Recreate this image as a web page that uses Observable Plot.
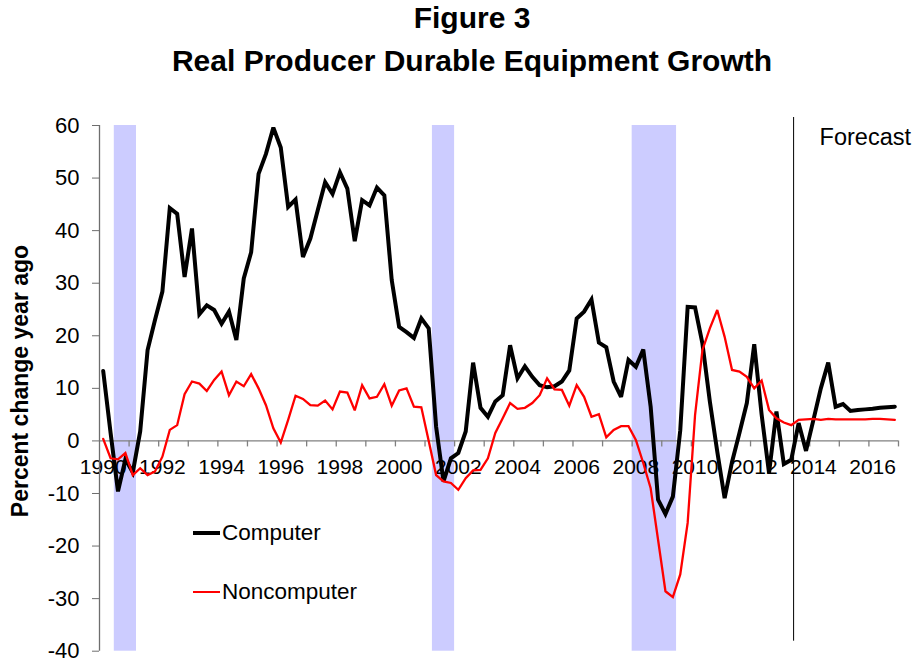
<!DOCTYPE html>
<html>
<head>
<meta charset="utf-8">
<script src="https://cdn.jsdelivr.net/npm/d3@7"></script>
<script src="https://cdn.jsdelivr.net/npm/@observablehq/plot@0.6"></script>
<style>
  body { margin: 0; background: #fff; font-family: "Liberation Sans", Arial, sans-serif; }
  #wrap { position: relative; width: 915px; height: 663px; overflow: hidden; background: #fff; }
  .t { position: absolute; left: 472px; transform: translateX(-50%); white-space: nowrap;
       font-weight: bold; font-size: 30px; line-height: 30px; color: #000; }
  #chart { position: absolute; left: 0; top: 90px; }
  #ylab { position: absolute; left: 20px; top: 381px; transform: translate(-50%, -50%) rotate(-90deg);
          white-space: nowrap; font-weight: bold; font-size: 23px; line-height: 23px; color: #000; }
  .legline { position: absolute; left: 193px; width: 27px; }
  .legtext { position: absolute; left: 222px; font-size: 22.5px; line-height: 22.5px; white-space: nowrap; color: #000; }
</style>
</head>
<body>
<div id="wrap">
  <div class="t" id="title1" style="top:3px"></div>
  <div class="t" id="title2" style="top:46px"></div>
  <div id="chart"></div>
  <div id="ylab"></div>
  <div class="legline" id="leg0" style="top:530.7px;height:4px;"></div>
  <div class="legtext" id="legt0" style="top:521.7px"></div>
  <div class="legline" id="leg1" style="top:591.2px;height:2.3px;"></div>
  <div class="legtext" id="legt1" style="top:581.3px"></div>
</div>
<script>
// ---------------- data ----------------
const titleText = "Figure 3";
const subtitleText = "Real Producer Durable Equipment Growth";
const yLabel = "Percent change year ago";
const seriesNames = ["Computer", "Noncomputer"];
const seriesColors = ["#000000", "#ff0000"];
const firstQuarter = "1990Q1";

// Percent change year ago, quarterly 1990Q1 .. 2016Q4
const computer = [
  13.3, 1.5, -9.6, -3.5, -6.0, 1.8, 17.3, 23.0,
  28.4, 44.3, 43.2, 31.2, 40.4, 24.1, 25.8, 24.9,
  22.3, 24.6, 19.2, 30.9, 35.9, 50.8, 54.6, 59.6,
  55.8, 44.5, 45.9, 35.0, 38.5, 43.9, 49.2, 47.0,
  51.1, 48.0, 38.0, 45.8, 44.8, 48.2, 46.7, 30.6,
  21.7, 20.7, 19.6, 23.3, 21.4, 2.7, -7.7, -3.3,
  -2.3, 1.8, 14.9, 6.3, 4.6, 7.5, 8.7, 18.2,
  11.9, 14.2, 12.2, 10.6, 10.2, 10.4, 11.3, 13.4,
  23.3, 24.6, 26.9, 18.7, 17.8, 11.3, 8.4, 15.4,
  14.1, 17.4, 6.5, -11.2, -13.9, -10.6, 2.0, 25.5,
  25.4, 18.5, 7.5, -2.0, -10.9, -4.0, 1.5, 7.2,
  18.4, 5.0, -6.1, 5.6, -4.4, -3.6, 3.4, -1.9,
  4.0, 10.0, 14.9, 6.5, 7.0, 5.7, 5.9, 6.0,
  6.1, 6.3, 6.4, 6.5
];
const noncomputer = [
  0.4, -3.3, -3.5, -2.3, -6.5, -5.2, -6.5, -5.8,
  -3.0, 2.1, 3.0, 8.9, 11.3, 10.9, 9.5, 11.6,
  13.2, 8.7, 11.3, 10.4, 12.7, 10.0, 6.8, 2.4,
  -0.3, 4.0, 8.6, 8.0, 6.8, 6.7, 7.7, 6.0,
  9.4, 9.2, 5.8, 10.6, 8.1, 8.4, 10.8, 6.7,
  9.6, 10.0, 6.5, 6.4, 0.0, -6.5, -7.7, -8.0,
  -9.3, -7.1, -5.6, -5.5, -3.3, 1.5, 4.3, 7.2,
  6.1, 6.3, 7.2, 8.7, 11.9, 9.8, 9.7, 6.7,
  10.6, 8.4, 4.6, 5.1, 0.7, 2.1, 2.8, 2.8,
  0.2, -4.2, -9.0, -18.8, -28.6, -29.7, -25.4, -15.6,
  4.9, 17.3, 21.4, 24.9, 19.8, 13.5, 13.2, 12.2,
  10.0, 11.5, 5.9, 4.3, 3.5, 3.0, 4.0, 4.1,
  4.2, 4.0, 4.2, 4.1, 4.1, 4.1, 4.1, 4.1,
  4.2, 4.2, 4.1, 4.0
];

const recessions = [
  { start: "1990Q3", end: "1991Q1" },
  { start: "2001Q2", end: "2001Q4" },
  { start: "2008Q1", end: "2009Q2" }
];
const forecastAt = 2013.33;        // boundary between history and forecast
const forecastLabel = "Forecast";

const xLabelYears = [1990, 1992, 1994, 1996, 1998, 2000, 2002, 2004, 2006, 2008, 2010, 2012, 2014, 2016];
const xTickYears = [1991, 1992, 1993, 1994, 1995, 1996, 1997, 1998, 1999, 2000, 2001, 2002, 2003, 2004,
                    2005, 2006, 2007, 2008, 2009, 2010, 2011, 2012, 2013, 2014, 2015, 2016, 2017];
const yTicks = [60, 50, 40, 30, 20, 10, 0, -10, -20, -30, -40];
const yDomain = [-40, 60];

// ---------------- build ----------------
const qToT = s => +s.slice(0, 4) + (+s.slice(5) - 1) / 4;
const t0 = qToT(firstQuarter);
const half = 0.125; // half a quarter, in years
const rows = computer.map((v, i) => ({ t: t0 + i / 4, computer: v, noncomputer: noncomputer[i] }));
const tLast = rows[rows.length - 1].t;
const recRows = recessions.map(r => ({ x1: qToT(r.start) - half, x2: qToT(r.end) + half }));

const W = 915, H = 573, mTop = 35, mBottom = 12.3, mLeft = 99, mRight = 17;
const pxPerUnit = (H - mTop - mBottom) / (yDomain[1] - yDomain[0]);
const tickDepth = 6 / pxPerUnit;
const xDomain = [t0 - half, tLast + half];
const font = '"Liberation Sans", Arial, sans-serif';

const chart = Plot.plot({
  width: W, height: H,
  marginLeft: mLeft, marginRight: mRight, marginTop: mTop, marginBottom: mBottom,
  style: { fontFamily: font, fontSize: "21px", color: "black", background: "white", overflow: "visible" },
  x: { domain: xDomain, axis: null },
  y: { domain: yDomain, axis: null },
  marks: [
    Plot.rect(recRows, { x1: "x1", x2: "x2", y1: yDomain[0], y2: yDomain[1], fill: "#ccccff" }),
    Plot.ruleY([0], { stroke: "#808080", strokeWidth: 1.3 }),
    Plot.ruleX(xTickYears, { x: d => d - half, y1: 0, y2: -tickDepth, stroke: "#808080", strokeWidth: 1.3 }),
    Plot.text(xLabelYears, { x: d => d, y: 0, dy: 26, text: d => String(d), fontSize: 21, fill: "black" }),
    Plot.ruleX([xDomain[0]], { y1: yDomain[0], y2: yDomain[1], stroke: "#6e6e6e", strokeWidth: 1.3 }),
    Plot.axisY(yTicks, { tickSize: 7, tickPadding: 13, fontSize: 22, stroke: "#6e6e6e", color: "black",
                         label: null, tickFormat: d => String(d) }),
    Plot.ruleX([forecastAt], { stroke: "black", strokeWidth: 1, insetTop: -8, insetBottom: 10 }),
    Plot.text([forecastLabel], { x: forecastAt, y: yDomain[1], dx: 26, dy: 12, textAnchor: "start",
                                 fontSize: 23.5, fill: "black" }),
    Plot.line(rows, { x: "t", y: "computer", stroke: seriesColors[0], strokeWidth: 4, strokeLinejoin: "miter", strokeMiterlimit: 3 }),
    Plot.line(rows, { x: "t", y: "noncomputer", stroke: seriesColors[1], strokeWidth: 2.3, strokeLinejoin: "miter", strokeMiterlimit: 3 })
  ]
});
document.getElementById("chart").appendChild(chart);

document.getElementById("title1").textContent = titleText;
document.getElementById("title2").textContent = subtitleText;
document.getElementById("ylab").textContent = yLabel;
document.getElementById("leg0").style.background = seriesColors[0];
document.getElementById("leg1").style.background = seriesColors[1];
document.getElementById("legt0").textContent = seriesNames[0];
document.getElementById("legt1").textContent = seriesNames[1];
</script>
</body>
</html>
